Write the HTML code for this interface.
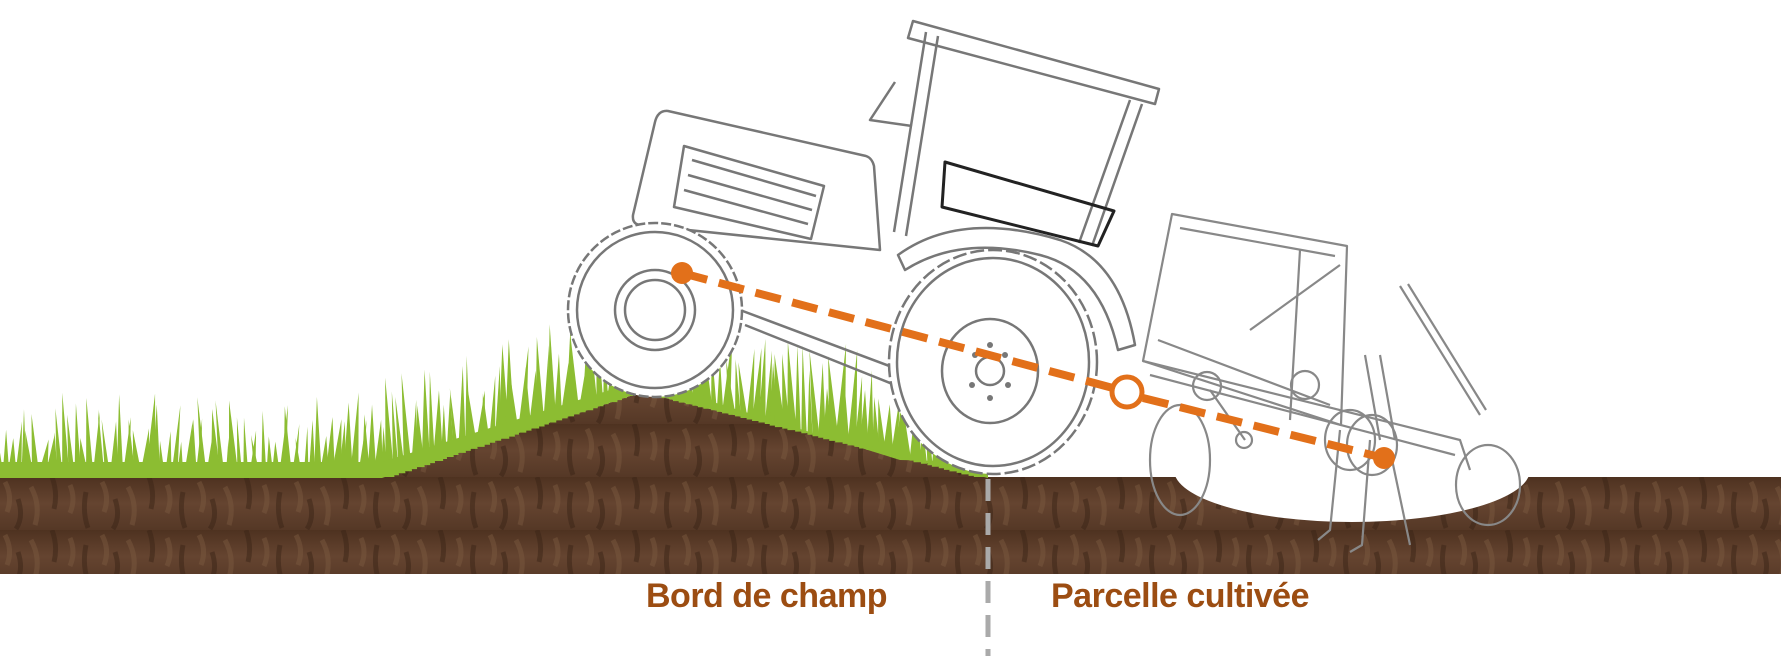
<!DOCTYPE html>
<html><head><meta charset="utf-8"><style>
html,body{margin:0;padding:0;background:#fff;}
#w{position:relative;width:1781px;height:658px;overflow:hidden;background:#fff;}
svg{position:absolute;left:0;top:0;}
.t{position:absolute;font-family:"Liberation Sans",sans-serif;font-weight:bold;font-size:34px;color:#9c4d12;top:577px;letter-spacing:-0.5px;}
</style></head><body><div id="w">
<svg width="1781" height="658" viewBox="0 0 1781 658">
<defs>
<linearGradient id="soil" x1="0" y1="0" x2="0" y2="1">
<stop offset="0" stop-color="#4e3220"/><stop offset="0.5" stop-color="#654430"/><stop offset="1" stop-color="#553826"/>
</linearGradient>
<pattern id="tex" width="97" height="53" patternUnits="userSpaceOnUse">
<rect width="97" height="53" fill="url(#soil)"/>
<path d="M5 5 q8 15 2 30 M31 10 q10 18 4 38 M70 8 q6 14 0 28" stroke="#7d5a40" stroke-width="5" fill="none" opacity="0.45"/>
<path d="M18 22 q6 18 -2 30 M52 0 q6 16 2 32 M86 15 q-4 20 2 36" stroke="#3a2416" stroke-width="5" fill="none" opacity="0.5"/>
</pattern>
<clipPath id="gclip"><polygon points="0,330 988,300 988,477 0,477"/></clipPath>
</defs>
<rect x="0" y="477" width="1781" height="97" fill="url(#tex)"/>
<polygon points="382,478 642,392 988,478" fill="url(#tex)"/>
<g id="grass" clip-path="url(#gclip)" fill="#8cbd32"></g>
<polygon points="0,462 382,462 642,380 642,392 382,478 0,478" fill="#8cbd32"/>
<polygon points="642,380 900,460 988,462 988,478 642,392" fill="#8cbd32"/>
<ellipse cx="1352" cy="470" rx="178" ry="52" fill="#fff"/>
<g fill="none" stroke="#777" stroke-width="2.5" stroke-linejoin="round">
<path d="M668 111 L866 156 Q872 158 874 166 L880 250 L640 225 Q632 224 633 215 L655 122 Q658 110 668 111Z" fill="#fff"/>
<path d="M684 146 L824 186 L811 239 L674 207Z"/>
<path d="M692 160 L816 196 M688 175 L812 210 M684 190 L808 224"/>
<path d="M913 21 L1159 89 L1155 104 L908 38Z" fill="#fff"/>
<path d="M926 32 L894 232 M938 36 L906 236 M1130 100 L1079 243 M1142 104 L1092 246"/>
<path d="M895 82 L870 120 L912 126" />
<path d="M945 162 L1114 211 L1098 246 L942 207Z" stroke="#222" stroke-width="3"/>
<path d="M898 255 Q960 210 1060 240 Q1120 260 1135 345 L1118 350 Q1100 270 1040 255 Q960 235 905 270Z" fill="#fff"/>
<path d="M740 310 L900 370 M745 325 L895 385"/>
<ellipse cx="993" cy="362" rx="104" ry="112" fill="#fff" stroke-dasharray="14 4"/>
<ellipse cx="993" cy="362" rx="96" ry="104"/>
<ellipse cx="990" cy="371" rx="48" ry="52"/>
<circle cx="990" cy="371" r="14"/>
<circle cx="655" cy="310" r="87" fill="#fff" stroke-dasharray="10 3"/>
<circle cx="655" cy="310" r="78"/>
<circle cx="655" cy="310" r="40"/>
<circle cx="655" cy="310" r="30"/>
</g>
<g fill="#777"><circle cx="975" cy="355" r="3"/><circle cx="1005" cy="355" r="3"/><circle cx="972" cy="385" r="3"/><circle cx="1008" cy="385" r="3"/><circle cx="990" cy="345" r="3"/><circle cx="990" cy="398" r="3"/></g>
<g fill="none" stroke="#888" stroke-width="2.2" stroke-linejoin="round">
<path d="M1172 214 L1347 246 L1341 425 L1143 361Z"/>
<path d="M1180 228 L1335 256 M1158 340 L1330 405"/>
<path d="M1250 330 L1340 265 M1300 250 L1290 420"/>
<path d="M1400 286 L1480 415 M1408 284 L1486 410"/>
<path d="M1143 361 L1460 440 L1470 470 M1150 375 L1455 455"/>
<path d="M1380 355 L1395 440 M1365 355 L1380 440"/>
<circle cx="1207" cy="386" r="14"/><circle cx="1305" cy="385" r="14"/><circle cx="1244" cy="440" r="8"/>
<ellipse cx="1180" cy="460" rx="30" ry="55"/>
<ellipse cx="1350" cy="440" rx="25" ry="30"/><ellipse cx="1372" cy="445" rx="25" ry="30"/>
<ellipse cx="1488" cy="485" rx="32" ry="40"/>
<path d="M1210 390 L1245 440 M1340 430 L1330 530 L1318 540 M1370 440 L1362 545 L1350 552"/>
<path d="M1390 450 L1410 545"/>
</g>
<line x1="682" y1="273" x2="1113" y2="388" stroke="#e2701a" stroke-width="8" stroke-dasharray="26 12"/>
<line x1="1143" y1="398" x2="1384" y2="458" stroke="#e2701a" stroke-width="8" stroke-dasharray="26 12"/>
<circle cx="682" cy="273" r="11" fill="#e2701a"/>
<circle cx="1384" cy="458" r="11" fill="#e2701a"/>
<circle cx="1127" cy="392" r="15" fill="#fff" stroke="#e2701a" stroke-width="5"/>
<line x1="988" y1="479" x2="988" y2="656" stroke="#aaa" stroke-width="5" stroke-dasharray="22 12"/>
</svg>
<div class="t" style="left:646px">Bord de champ</div>
<div class="t" style="left:1051px">Parcelle cultivée</div>
</div>
<script>
(function(){
var g=document.getElementById('grass'),s='',seed=7;
function r(){seed=(seed*9301+49297)%233280;return seed/233280;}
function base(x){if(x<382)return 470;if(x<642)return 470-(x-382)*88/260;return 382+(x-642)*88/346;}
for(var x=0;x<990;x+=6){
 var b=base(x),h=(x<382?28:40)+r()*50,w=5+r()*6,lean=(r()-0.5)*14;
 s+='<polygon points="'+(x-w/2)+','+(b+10)+' '+(x+lean)+','+(b-h)+' '+(x+w/2)+','+(b+10)+'"/>';
}
g.innerHTML=s;
})();
</script>
</body></html>
